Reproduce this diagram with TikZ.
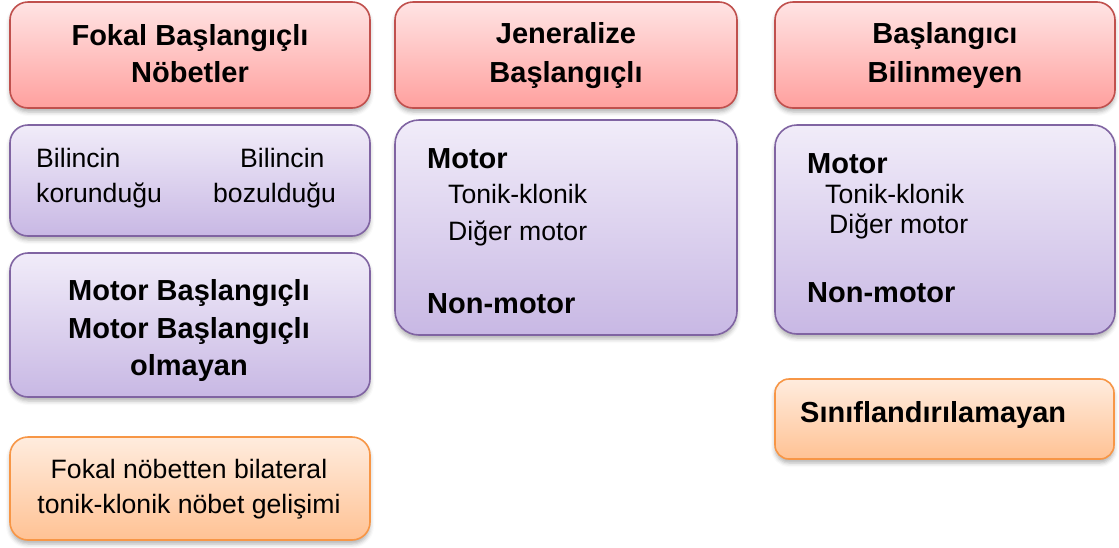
\documentclass[tikz,border=0pt]{standalone}
\usepackage{fontspec}
\setmainfont{Liberation Sans}
\usetikzlibrary{shadows.blur}
\definecolor{redtop}{RGB}{255,228,228}
\definecolor{redbot}{RGB}{255,160,158}
\definecolor{redline}{RGB}{192,80,77}
\definecolor{purtop}{RGB}{241,236,249}
\definecolor{purbot}{RGB}{200,184,228}
\definecolor{purline}{RGB}{128,100,162}
\definecolor{ortop}{RGB}{255,236,222}
\definecolor{orbot}{RGB}{255,194,148}
\definecolor{orline}{RGB}{247,150,70}
\tikzset{
  box/.style={rectangle, rounded corners=18pt, line width=1.6pt, inner sep=0pt, outer sep=0pt,
    blur shadow={shadow xshift=0pt, shadow yshift=-4pt, shadow blur radius=4pt, shadow opacity=30}},
  redbox/.style={box, draw=redline, top color=redtop, bottom color=redbot},
  purbox/.style={box, draw=purline, top color=purtop, bottom color=purbot},
  orbox/.style={box, draw=orline, top color=ortop, bottom color=orbot},
  bt/.style={inner sep=0pt, anchor=base, font=\fontsize{29}{36}\selectfont\bfseries},
  rt/.style={inner sep=0pt, anchor=base, font=\fontsize{26.6}{34}\selectfont},
  btl/.style={bt, anchor=base west},
  rtl/.style={rt, anchor=base west},
}
\begin{document}
\begin{tikzpicture}[x=1pt,y=-1pt]
\useasboundingbox (0,0) rectangle (1119,547);
% boxes
\node[redbox, minimum width=360pt, minimum height=106pt] (A) at (190,55) {};
\node[purbox, minimum width=360pt, minimum height=111pt] (B) at (190,180.5) {};
\node[purbox, minimum width=360pt, minimum height=144pt] (C) at (190,325) {};
\node[orbox, minimum width=360pt, minimum height=103pt] (D) at (190,488.5) {};
\node[redbox, minimum width=342pt, minimum height=106pt] (E) at (566,55) {};
\node[purbox, rounded corners=24pt, minimum width=342pt, minimum height=215pt] (F) at (566,227.5) {};
\node[redbox, minimum width=340pt, minimum height=106pt] (G) at (945,55) {};
\node[purbox, rounded corners=22pt, minimum width=340pt, minimum height=209pt] (H) at (945,229.5) {};
\node[orbox, rounded corners=14pt, minimum width=339pt, minimum height=80pt] (I) at (944.5,419) {};
% left column text
\node[bt] (a1) at (190,45) {Fokal Başlangıçlı};
\node[bt] (a2) at (190,82) {Nöbetler};
\node[rtl] (b1) at (36,167) {Bilincin};
\node[rtl] (b2) at (36,202) {korunduğu};
\node[rtl] (b3) at (240,167) {Bilincin};
\node[rtl] (b4) at (213,202) {bozulduğu};
\node[bt] (c1) at (189,300) {Motor Başlangıçlı};
\node[bt] (c2) at (189,338) {Motor Başlangıçlı};
\node[bt] (c3) at (189,375) {olmayan};
\node[rt] (d1) at (189,478) {Fokal nöbetten bilateral};
\node[rt] (d2) at (189,513) {tonik-klonik nöbet gelişimi};
% middle column text
\node[bt] (e1) at (566,43) {Jeneralize};
\node[bt] (e2) at (566,82) {Başlangıçlı};
\node[btl] (f1) at (427,168) {Motor};
\node[rtl] (f2) at (448,203) {Tonik-klonik};
\node[rtl] (f3) at (448,240) {Diğer motor};
\node[btl] (f4) at (427,313) {Non-motor};
% right column text
\node[bt] (g1) at (945,43) {Başlangıcı};
\node[bt] (g2) at (945,82) {Bilinmeyen};
\node[btl] (h1) at (807,173) {Motor};
\node[rtl] (h2) at (825,203) {Tonik-klonik};
\node[rtl] (h3) at (829,233) {Diğer motor};
\node[btl] (h4) at (807,302) {Non-motor};
\node[btl] (i1) at (800,422) {Sınıflandırılamayan};
\end{tikzpicture}
\end{document}
